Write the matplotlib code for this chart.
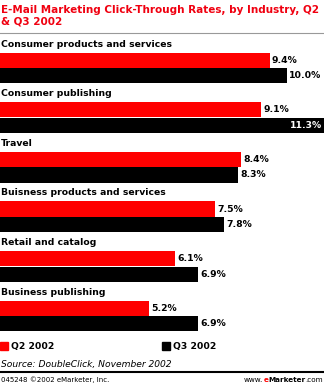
import matplotlib
matplotlib.use("Agg")
import matplotlib.pyplot as plt
from matplotlib.patches import Rectangle
from matplotlib.lines import Line2D

# chart data
industries = [
    "Consumer products and services",
    "Consumer publishing",
    "Travel",
    "Buisness products and services",
    "Retail and catalog",
    "Business publishing",
]
q2_2002 = [9.4, 9.1, 8.4, 7.5, 6.1, 5.2]
q3_2002 = [10.0, 11.3, 8.3, 7.8, 6.9, 6.9]
series_names = ["Q2 2002", "Q3 2002"]

RED = "#ff0000"
BLACK = "#000000"
W, H = 324, 385

fig = plt.figure(figsize=(W / 100, H / 100), dpi=100)
fig.patch.set_facecolor("white")

# title
fig.text(1 / W, 1 - 5 / H, "E-Mail Marketing Click-Through Rates, by Industry, Q2\n& Q3 2002",
         color="#f00010", fontsize=7.5, fontweight="bold", va="top", ha="left",
         linespacing=1.15)
fig.add_artist(Line2D([0, 1], [1 - 33 / H, 1 - 33 / H], color="#999999", lw=0.8))

# main axes: group spacing ~49.6 px, first group centre at 68 px
top_px, bot_px, c0, step = 33, 340, 68, 49.6
ax = fig.add_axes([0, 1 - bot_px / H, 1, (bot_px - top_px) / H])
ax.set_ylim((bot_px - c0) / step, (top_px - c0) / step)
ax.set_xlim(0, 11.3)
ax.axis("off")

bh = 15.2 / step
off = 7.8 / step
for i, (name, a, b) in enumerate(zip(industries, q2_2002, q3_2002)):
    ax.barh(i - off, a, height=bh, color=RED, edgecolor="none")
    ax.barh(i + off, b, height=bh, color=BLACK, edgecolor="none")
    ax.text(0.02, i - off - bh / 2 - 8.5 / step, name, fontsize=6.7, fontweight="bold",
            va="center", ha="left")
    for y, v in ((i - off, a), (i + off, b)):
        if v >= 11.0:
            ax.text(v - 0.08, y, f"{v:.1f}%", color="white", fontsize=6.7,
                    fontweight="bold", va="center", ha="right")
        else:
            ax.text(v + 0.08, y, f"{v:.1f}%", color="black", fontsize=6.7,
                    fontweight="bold", va="center", ha="left")

# legend
for x0, col, lab in ((0, RED, series_names[0]), (162, BLACK, series_names[1])):
    fig.add_artist(Rectangle((x0 / W, 1 - 350 / H), 8 / W, 8 / H, color=col,
                             transform=fig.transFigure))
    fig.text((x0 + 11) / W, 1 - 346 / H, lab, fontsize=6.7, fontweight="bold",
             va="center", ha="left")

# source and footer
fig.text(1 / W, 1 - 365 / H, "Source: DoubleClick, November 2002", fontsize=6.6,
         style="italic", va="center", ha="left")
fig.add_artist(Line2D([0, 1], [1 - 372 / H, 1 - 372 / H], color="black", lw=1.5))
fig.text(1 / W, 1 - 380 / H, "045248 \u00a92002 eMarketer, Inc.", fontsize=5,
         va="center", ha="left")

# www.eMarketer.com, laid out right to left
renderer = fig.canvas.get_renderer()
x_right = W - 1
for part, col, wt in ((".com", "black", "normal"), ("Marketer", "black", "bold"),
                      ("e", RED, "bold"), ("www.", "black", "normal")):
    t = fig.text(x_right / W, 1 - 380 / H, part, fontsize=5.2, color=col,
                 fontweight=wt, va="center", ha="right")
    x_right -= t.get_window_extent(renderer).width

fig.savefig("out.png", dpi=100, facecolor="white")
